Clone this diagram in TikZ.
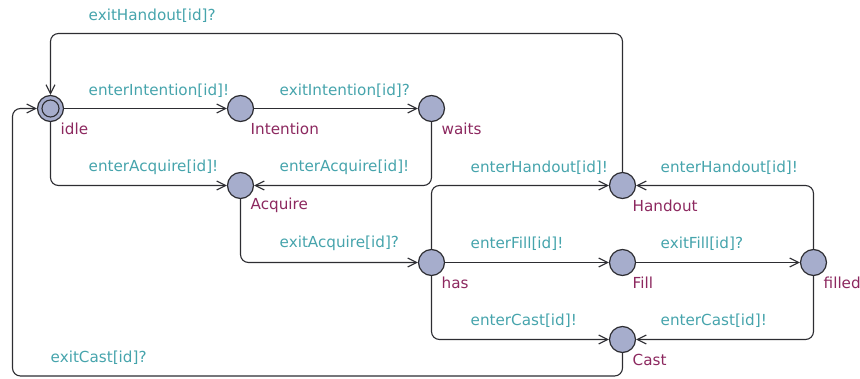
\documentclass[tikz,border=0pt]{standalone}
\usepackage{fontspec}
\setmainfont{DejaVu Sans}
\usetikzlibrary{arrows.meta}
\definecolor{locfill}{RGB}{166,173,204}
\definecolor{locline}{RGB}{45,45,50}
\definecolor{synccol}{RGB}{70,164,172}
\definecolor{namecol}{RGB}{140,40,95}
\tikzset{
  loc/.style={circle, draw=locline, fill=locfill, line width=1.2pt, minimum size=26pt, inner sep=0pt},
  locname/.style={anchor=west, inner sep=0pt, text=namecol, font=\fontsize{15.2}{18}\selectfont},
  sync/.style={anchor=west, inner sep=0pt, text=synccol, font=\fontsize{15.2}{18}\selectfont},
  edge/.style={draw=locline, line width=1.1pt, rounded corners=8pt,
    -{Straight Barb[length=9pt, width=9pt, line width=1.1pt]}},
}
\begin{document}
\begin{tikzpicture}[x=1pt, y=-1pt]
\useasboundingbox (-0.5,-0.5) rectangle (859.5,377.5);

% locations
\node[loc] (idle) at (50,108) {};
\draw[locline, line width=1.1pt] (idle.center) circle (8.5pt);
\node[loc] (intention) at (240,108) {};
\node[loc] (waits) at (431,108) {};
\node[loc] (acquire) at (240,185) {};
\node[loc] (handout) at (622,185) {};
\node[loc] (has) at (431,262) {};
\node[loc] (fill) at (622,262) {};
\node[loc] (filled) at (813,262) {};
\node[loc] (cast) at (622,339) {};

% location names
\node[locname] (nidle) at (60,128) {idle};
\node[locname] (nintention) at (250,128) {Intention};
\node[locname] (nwaits) at (441,128) {waits};
\node[locname] (nacquire) at (250,205) {Acquire};
\node[locname] (nhandout) at (632,205) {Handout};
\node[locname] (nhas) at (441,282) {has};
\node[locname] (nfill) at (632,282) {Fill};
\node[locname] (nfilled) at (823,282) {filled};
\node[locname] (ncast) at (632,359) {Cast};

% bend points of the long return edges
\coordinate (top) at (50,33);
\coordinate (bottomleft) at (12,375.5);

% edges
\draw[edge] (idle.east) -- (intention.west);
\draw[edge] (intention.east) -- (waits.west);
\draw[edge] (idle.south) |- (acquire.west);
\draw[edge] (waits.south) |- (acquire.east);
\draw[edge] (acquire.south) |- (has.west);
\draw[edge] (has.north) |- (handout.west);
\draw[edge] (has.east) -- (fill.west);
\draw[edge] (fill.east) -- (filled.west);
\draw[edge] (filled.north) |- (handout.east);
\draw[edge] (has.south) |- (cast.west);
\draw[edge] (filled.south) |- (cast.east);
\draw[edge] (handout.north) |- (top) -- (idle.north);
\draw[edge] (cast.south) |- (bottomleft) |- (idle.west);

% synchronisations
\node[sync] (s1) at (88,15) {exitHandout[id]?};
\node[sync] (s2) at (88,90) {enterIntention[id]!};
\node[sync] (s3) at (279,90) {exitIntention[id]?};
\node[sync] (s4) at (88,167) {enterAcquire[id]!};
\node[sync] (s5) at (279,167) {enterAcquire[id]!};
\node[sync] (s6) at (279,243) {exitAcquire[id]?};
\node[sync] (s7) at (470,167) {enterHandout[id]!};
\node[sync] (s8) at (660,167) {enterHandout[id]!};
\node[sync] (s9) at (470,243) {enterFill[id]!};
\node[sync] (s10) at (660,243) {exitFill[id]?};
\node[sync] (s11) at (470,320) {enterCast[id]!};
\node[sync] (s12) at (660,320) {enterCast[id]!};
\node[sync] (s13) at (50,357) {exitCast[id]?};
\end{tikzpicture}
\end{document}
